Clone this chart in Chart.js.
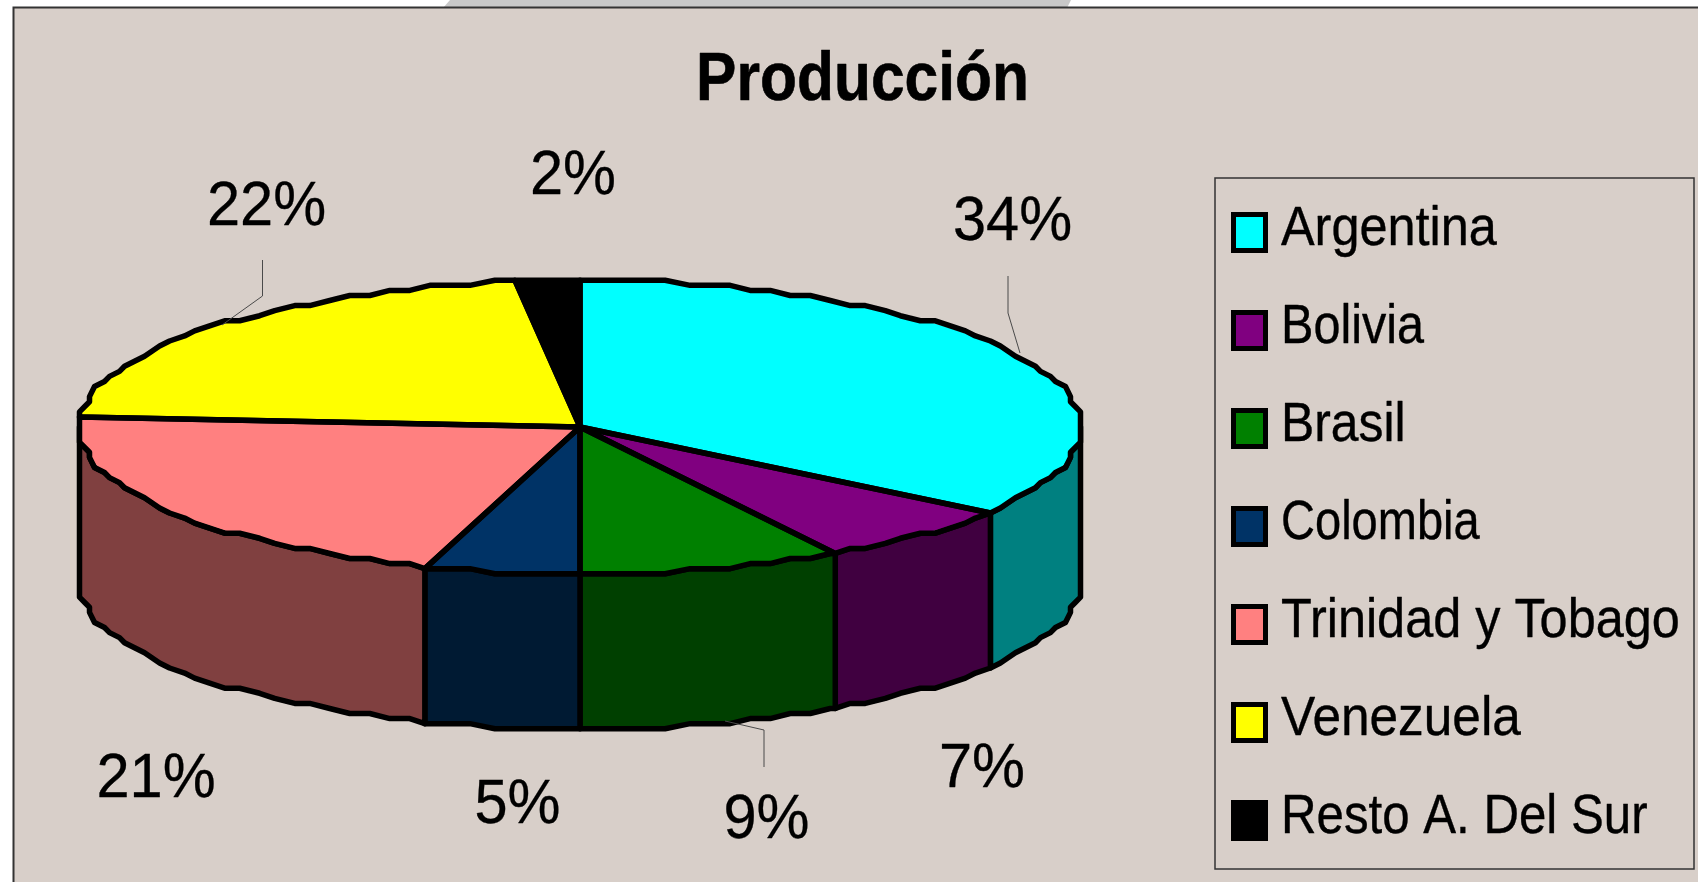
<!DOCTYPE html>
<html>
<head>
<meta charset="utf-8">
<style>html,body{margin:0;padding:0;background:#fff;overflow:hidden}canvas{display:block}</style>
<script src="https://cdn.jsdelivr.net/npm/chart.js@4"></script>
</head>
<body>
<canvas id="c" width="1698" height="882"></canvas>
<script>
// ---- data ----
const chartTitle = 'Producción';
const categories = ['Argentina', 'Bolivia', 'Brasil', 'Colombia', 'Trinidad y Tobago', 'Venezuela', 'Resto A. Del Sur'];
const shares = [34.7, 6.7, 8.6, 5, 21, 22, 2];
const percentLabels = ['34%', '7%', '9%', '5%', '21%', '22%', '2%'];
const topColors = ['#00FFFF', '#800080', '#008000', '#003366', '#FF8080', '#FFFF00', '#000000'];
const wallColors = ['#008080', '#400040', '#004000', '#001A33', '#804040', '#808000', '#000000'];

// ---- layout ----
const FONT = '"Liberation Sans", Arial, sans-serif';
const BG = '#D8CFC9';
const PIE = { cx: 580, cy: 427, rx: 500.5, ry: 146.7, depth: 155, line: 5.5 };
const labelAnchors = [[1012.5, 240], [982, 787], [766.5, 838], [517.5, 823], [156, 797], [266.5, 225], [573, 194]];
const leaders = [
  [[1008, 276], [1008, 313], [1020, 353]],
  [[764, 767], [764, 730], [725, 721]],
  [[262.5, 260], [262.5, 296], [222, 325]]
];
const LEGEND = { x: 1215, y: 178, w: 479, h: 691, swX: 1233.5, swY: 214.5, swW: 32, swH: 36, textX: 1281, base: 245, step: 98 };
const legendSqueeze = [0.9, 0.867, 0.89, 0.84, 0.9, 0.917, 0.879];

function snapPoint(a, dy) {
  const qx = PIE.rx / 100, qy = PIE.ry / 29;
  return [
    PIE.cx + Math.round(Math.cos(a) * PIE.rx / qx) * qx,
    PIE.cy + Math.round(Math.sin(a) * PIE.ry / qy) * qy + dy
  ];
}
function arcPoints(a1, a2, dy) {
  const step = 2.5 * Math.PI / 180, pts = [snapPoint(a1, dy)];
  for (let k = Math.ceil(a1 / step + 1e-6); k * step < a2; k++) pts.push(snapPoint(k * step, dy));
  pts.push(snapPoint(a2, dy));
  return pts;
}
function squeezed(ctx, text, x, y, font, sx, align, weight) {
  ctx.save();
  ctx.font = font;
  ctx.fillStyle = '#000';
  ctx.strokeStyle = '#000';
  ctx.lineWidth = weight;
  ctx.lineJoin = 'round';
  ctx.textBaseline = 'alphabetic';
  ctx.textAlign = align;
  ctx.translate(x, y);
  ctx.scale(sx, 1);
  ctx.fillText(text, 0, 0);
  if (weight) ctx.strokeText(text, 0, 0);
  ctx.restore();
}

const pie3d = {
  id: 'pie3d',
  beforeDraw(chart) {
    const ctx = chart.ctx;
    ctx.save();
    ctx.fillStyle = '#fff';
    ctx.fillRect(0, 0, 1698, 882);
    ctx.fillStyle = '#C8C8C8';
    ctx.beginPath();
    ctx.moveTo(450, 0); ctx.lineTo(443, 8); ctx.lineTo(1067, 8); ctx.lineTo(1071, 0);
    ctx.closePath(); ctx.fill();
    ctx.fillStyle = BG;
    ctx.fillRect(13, 8, 1685, 874);
    ctx.strokeStyle = '#333';
    ctx.lineWidth = 2;
    ctx.beginPath();
    ctx.moveTo(13.5, 882); ctx.lineTo(13.5, 7.5); ctx.lineTo(1698, 7.5);
    ctx.stroke();
    ctx.restore();
  },
  beforeDatasetsDraw(chart) {
    const ctx = chart.ctx, arcs = chart.getDatasetMeta(0).data;
    ctx.save();
    ctx.lineJoin = 'round';
    ctx.lineWidth = PIE.line;
    ctx.strokeStyle = '#000';
    arcs.forEach((el, i) => {
      const lo = Math.max(el.startAngle, 0), hi = Math.min(el.endAngle, Math.PI);
      if (hi <= lo) return;
      const top = arcPoints(lo, hi, 0), bottom = arcPoints(lo, hi, PIE.depth).reverse();
      ctx.beginPath();
      top.concat(bottom).forEach((p, k) => k ? ctx.lineTo(p[0], p[1]) : ctx.moveTo(p[0], p[1]));
      ctx.closePath();
      ctx.fillStyle = wallColors[i];
      ctx.fill();
      ctx.stroke();
    });
    ctx.restore();
    // the library's circular arcs are flattened to the ellipse of the top face
    const el = arcs[0], sx = PIE.rx / el.outerRadius, sy = PIE.ry / el.outerRadius;
    ctx.save();
    ctx.translate(el.x, el.y);
    ctx.scale(sx, sy);
    ctx.translate(-el.x, -el.y);
  },
  afterDatasetsDraw(chart) {
    const ctx = chart.ctx, arcs = chart.getDatasetMeta(0).data;
    ctx.restore();
    ctx.save();
    ctx.lineJoin = 'round';
    ctx.lineWidth = PIE.line;
    ctx.strokeStyle = '#000';
    arcs.forEach(el => {
      ctx.beginPath();
      ctx.moveTo(PIE.cx, PIE.cy);
      arcPoints(el.startAngle, el.endAngle, 0).forEach(p => ctx.lineTo(p[0], p[1]));
      ctx.closePath();
      ctx.stroke();
    });
    ctx.restore();
  },
  afterDraw(chart) {
    const ctx = chart.ctx;
    // title
    squeezed(ctx, chartTitle, 862.5, 100, 'bold 68px ' + FONT, 0.89, 'center', 0.6);
    // leader lines
    ctx.save();
    ctx.strokeStyle = '#4a4a4a';
    ctx.lineWidth = 1;
    leaders.forEach(l => {
      ctx.beginPath();
      l.forEach((p, k) => k ? ctx.lineTo(p[0], p[1]) : ctx.moveTo(p[0], p[1]));
      ctx.stroke();
    });
    ctx.restore();
    // percentage labels
    percentLabels.forEach((t, i) => {
      squeezed(ctx, t, labelAnchors[i][0], labelAnchors[i][1], '63px ' + FONT, 0.945, 'center', 0.3);
    });
    // legend
    ctx.save();
    ctx.strokeStyle = '#333';
    ctx.lineWidth = 1.5;
    ctx.strokeRect(LEGEND.x, LEGEND.y, LEGEND.w, LEGEND.h);
    categories.forEach((name, i) => {
      const y = LEGEND.swY + i * LEGEND.step;
      ctx.fillStyle = topColors[i];
      ctx.fillRect(LEGEND.swX, y, LEGEND.swW, LEGEND.swH);
      ctx.strokeStyle = '#000';
      ctx.lineWidth = 5;
      ctx.strokeRect(LEGEND.swX, y, LEGEND.swW, LEGEND.swH);
      squeezed(ctx, name, LEGEND.textX, LEGEND.base + i * LEGEND.step, '56px ' + FONT, legendSqueeze[i], 'left', 0.4);
    });
    ctx.restore();
  }
};

new Chart(document.getElementById('c'), {
  type: 'pie',
  data: {
    labels: categories,
    datasets: [{
      data: shares,
      backgroundColor: topColors,
      borderWidth: 0,
      clip: false
    }]
  },
  options: {
    responsive: false,
    animation: false,
    radius: 146.7,
    layout: { padding: { left: 0, top: 0, right: 538, bottom: 28 } },
    plugins: { legend: { display: false }, title: { display: false }, tooltip: { enabled: false } }
  },
  plugins: [pie3d]
});
</script>
</body>
</html>
